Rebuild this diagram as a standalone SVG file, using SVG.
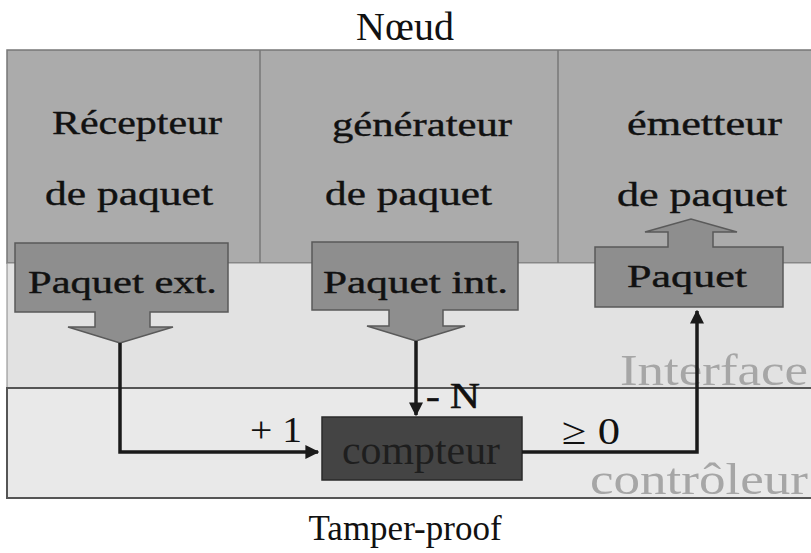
<svg xmlns="http://www.w3.org/2000/svg" width="811" height="553" viewBox="0 0 811 553">
<defs>
<style>
.t{font-family:"Liberation Serif","Times New Roman",serif;fill:#111;}
.big{font-size:34px;stroke:#111;stroke-width:0.4;}
.lbl{font-size:32px;stroke:#111;stroke-width:0.4;}
.faint{font-family:"Liberation Serif","Times New Roman",serif;fill:#a6a6a6;font-size:44px;}
.box{fill:#8e8e8e;stroke:#5a5a5a;stroke-width:1.5;}
.conn{fill:none;stroke:#1a1a1a;stroke-width:3.5;}
</style>
<marker id="ah" viewBox="0 0 10 10" refX="9" refY="5" markerWidth="4" markerHeight="4" orient="auto" markerUnits="strokeWidth">
<path d="M0,0 L10,5 L0,10 z" fill="#1a1a1a"/>
</marker>
</defs>
<rect width="811" height="553" fill="#fff"/>
<text class="t" x="405" y="40" font-size="40" text-anchor="middle">Nœud</text>
<g id="frame">
<rect x="7" y="50" width="810" height="213" fill="#ababab" stroke="#777" stroke-width="1.5"/>
<rect x="7" y="263" width="810" height="125" fill="#e2e2e2" stroke="#888" stroke-width="1"/>
<rect x="7" y="388" width="810" height="110" fill="#e9e9e9" stroke="#555" stroke-width="2"/>
<line x1="260" y1="50" x2="260" y2="263" stroke="#777" stroke-width="1.5"/>
<line x1="558" y1="50" x2="558" y2="263" stroke="#777" stroke-width="1.5"/>
</g>
<g id="recepteur">
<text class="t big" x="52" y="134" textLength="170" lengthAdjust="spacingAndGlyphs">Récepteur</text>
<text class="t big" x="45" y="205" textLength="168" lengthAdjust="spacingAndGlyphs">de paquet</text>
</g>
<g id="generateur">
<text class="t big" x="332" y="136" textLength="180" lengthAdjust="spacingAndGlyphs">générateur</text>
<text class="t big" x="325" y="205" textLength="167" lengthAdjust="spacingAndGlyphs">de paquet</text>
</g>
<g id="emetteur">
<text class="t big" x="627" y="135" textLength="155" lengthAdjust="spacingAndGlyphs">émetteur</text>
<text class="t big" x="617" y="206" textLength="170" lengthAdjust="spacingAndGlyphs">de paquet</text>
</g>
<g id="paquet-ext">
<path class="box" d="M15,243 H228 V312 H150 V327 H173 L120,343 L68,327 H95 V312 H15 Z"/>
<text class="t lbl" x="28" y="293" textLength="189" lengthAdjust="spacingAndGlyphs">Paquet ext.</text>
</g>
<g id="paquet-int">
<path class="box" d="M312,242 H518 V310 H443 V326 H465 L416,341 L367,326 H389 V310 H312 Z"/>
<text class="t lbl" x="323" y="293" textLength="185" lengthAdjust="spacingAndGlyphs">Paquet int.</text>
</g>
<g id="paquet">
<path class="box" d="M595,247 H668 V232 H645 L691,219 L737,232 H713 V247 H783 V307 H595 Z"/>
<text class="t lbl" x="627" y="287" textLength="120" lengthAdjust="spacingAndGlyphs">Paquet</text>
</g>
<g id="compteur">
<rect x="322" y="417" width="200" height="63" fill="#444" stroke="#2a2a2a" stroke-width="1.5"/>
<text x="342" y="464" font-family="Liberation Serif, Times New Roman, serif" font-size="40" fill="#1e1e1e" textLength="158" lengthAdjust="spacingAndGlyphs">compteur</text>
</g>
<g id="labels">
<text class="faint" x="620" y="385" textLength="188" lengthAdjust="spacingAndGlyphs">Interface</text>
<text class="faint" x="590" y="494" textLength="218" lengthAdjust="spacingAndGlyphs">contrôleur</text>
</g>
<g id="connectors">
<path class="conn" d="M120,343 V452 H318" marker-end="url(#ah)"/>
<path class="conn" d="M416,341 V415" marker-end="url(#ah)"/>
<path class="conn" d="M522,452 H697 V311" marker-end="url(#ah)"/>
<text class="t" x="426" y="408" font-size="36" stroke="#111" stroke-width="0.6" textLength="54" lengthAdjust="spacingAndGlyphs">- N</text>
<text class="t" x="250" y="442" font-size="36" textLength="52" lengthAdjust="spacingAndGlyphs">+ 1</text>
<text class="t" x="562" y="444" font-size="38" textLength="58" lengthAdjust="spacingAndGlyphs">≥ 0</text>
</g>
<text class="t" x="405" y="540" font-size="35" text-anchor="middle">Tamper-proof</text>
</svg>
